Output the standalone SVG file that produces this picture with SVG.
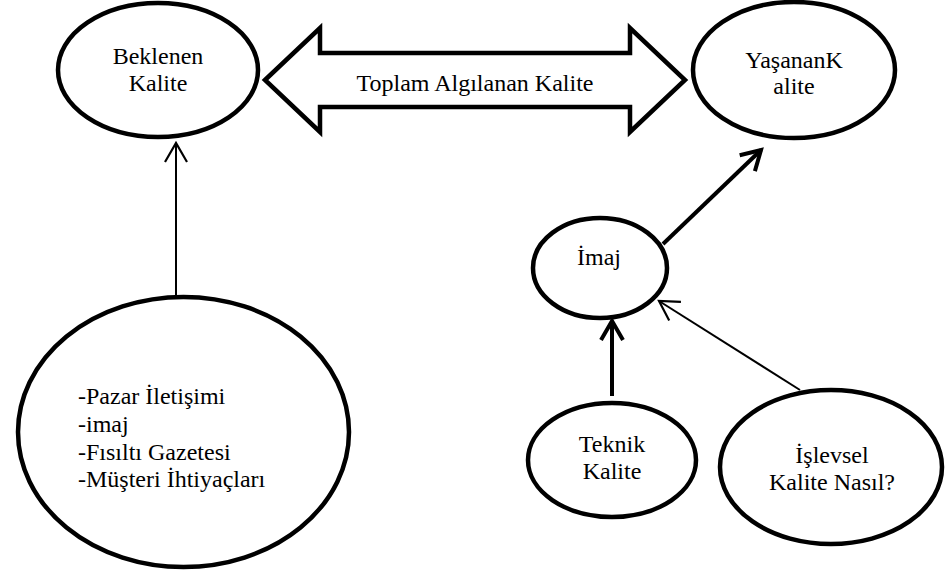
<svg xmlns="http://www.w3.org/2000/svg" width="945" height="585" viewBox="0 0 945 585">
  <style>
    .node { fill: #ffffff; stroke: #000000; stroke-width: 4.5; }
    text { font-family: 'Liberation Serif', 'Times New Roman', Times, serif; font-size: 24px; fill: #000000; }
    .mid { text-anchor: middle; }
    .thin { stroke: #000000; stroke-width: 2; fill: none; }
    .thick { stroke: #000000; stroke-width: 4; fill: none; }
  </style>
  <defs>
    <marker id="headThin" markerUnits="userSpaceOnUse" viewBox="-24 -14 28 28" markerWidth="28" markerHeight="28" refX="0" refY="0" orient="auto">
      <path d="M -19,-11 L 0,0 L -19,11" fill="none" stroke="#000" stroke-width="2.2"/>
    </marker>
    <marker id="headThick" markerUnits="userSpaceOnUse" viewBox="-24 -14 28 28" markerWidth="28" markerHeight="28" refX="0" refY="0" orient="auto">
      <path d="M -19,-11 L 0,0 L -19,11" fill="none" stroke="#000" stroke-width="4"/>
    </marker>
  </defs>

  <rect width="945" height="585" fill="#ffffff"/>

  <!-- connectors -->
  <g id="connectors">
    <line class="thin" x1="176" y1="297" x2="176" y2="143" marker-end="url(#headThin)"/>
    <line class="thick" x1="663" y1="244" x2="761" y2="150" marker-end="url(#headThick)"/>
    <line class="thick" x1="612" y1="396" x2="612" y2="321" marker-end="url(#headThick)"/>
    <line class="thin" x1="800" y1="390" x2="659" y2="301" marker-end="url(#headThin)"/>
  </g>

  <!-- two-headed block arrow between expected and experienced quality -->
  <g id="toplam">
    <polygon class="node" points="265,80 320,28 320,53 630,53 630,28 685,80 630,132 630,107 320,107 320,132"/>
    <text class="mid" x="475" y="91" font-family="Liberation Serif, serif">Toplam Algılanan Kalite</text>
  </g>

  <g id="beklenen" font-family="Liberation Serif, serif">
    <ellipse class="node" cx="158" cy="70" rx="100" ry="67"/>
    <text class="mid" x="158" y="64">Beklenen</text>
    <text class="mid" x="158" y="91">Kalite</text>
  </g>

  <g id="yasanan">
    <ellipse class="node" cx="794" cy="70" rx="101" ry="68"/>
    <text class="mid" x="794" y="68">YaşananK</text>
    <text class="mid" x="794" y="94">alite</text>
  </g>

  <g id="imaj">
    <ellipse class="node" cx="600" cy="268" rx="67" ry="50"/>
    <text class="mid" x="599" y="265">İmaj</text>
  </g>

  <g id="teknik">
    <ellipse class="node" cx="612" cy="460" rx="84" ry="57"/>
    <text class="mid" x="612" y="452">Teknik</text>
    <text class="mid" x="612" y="479">Kalite</text>
  </g>

  <g id="islevsel">
    <ellipse class="node" cx="831" cy="467" rx="111" ry="77"/>
    <text class="mid" x="832" y="463">İşlevsel</text>
    <text class="mid" x="832" y="490">Kalite Nasıl?</text>
  </g>

  <g id="etkenler">
    <ellipse class="node" cx="183.5" cy="432" rx="165.5" ry="135"/>
    <text x="78" y="404">-Pazar İletişimi</text>
    <text x="78" y="432">-imaj</text>
    <text x="78" y="460">-Fısıltı Gazetesi</text>
    <text x="78" y="487">-Müşteri İhtiyaçları</text>
  </g>
</svg>
